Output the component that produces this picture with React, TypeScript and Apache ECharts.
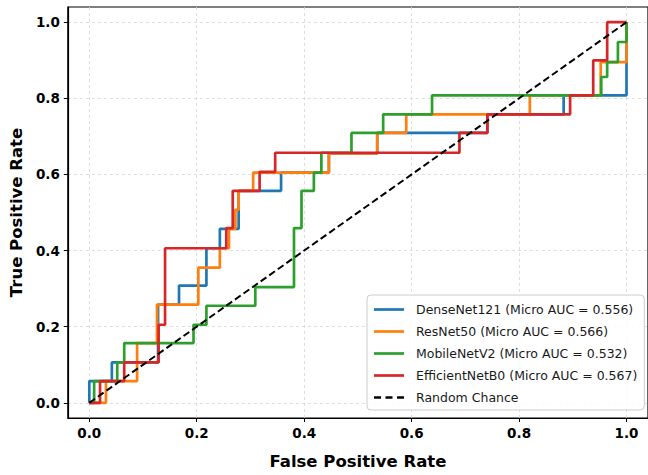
import React, { useEffect, useRef } from "react";
import * as echarts from "echarts";

const xTicks = [0, 0.2, 0.4, 0.6, 0.8, 1.0];
const yTicks = [0, 0.2, 0.4, 0.6, 0.8, 1.0];

const seriesNames = [
  "DenseNet121 (Micro AUC = 0.556)",
  "ResNet50 (Micro AUC = 0.566)",
  "MobileNetV2 (Micro AUC = 0.532)",
  "EfficientNetB0 (Micro AUC = 0.567)",
];
const chanceName = "Random Chance";
const seriesColors = ["#1f77b4", "#ff7f0e", "#2ca02c", "#d62728"];

const denseFpr = [0, 0, 0.042, 0.042, 0.128, 0.128, 0.167, 0.167, 0.218, 0.218, 0.243, 0.243, 0.278, 0.278, 0.357, 0.357, 0.446, 0.446, 0.536, 0.536, 0.741, 0.741, 0.883, 0.883, 1.0, 1.0];
const denseTpr = [0, 0.057, 0.057, 0.106, 0.106, 0.258, 0.258, 0.308, 0.308, 0.406, 0.406, 0.457, 0.457, 0.557, 0.557, 0.605, 0.605, 0.655, 0.655, 0.709, 0.709, 0.758, 0.758, 0.808, 0.808, 1.0];

const resFpr = [0, 0.031, 0.031, 0.089, 0.089, 0.126, 0.126, 0.203, 0.203, 0.243, 0.243, 0.26, 0.26, 0.272, 0.272, 0.278, 0.278, 0.305, 0.305, 0.446, 0.446, 0.536, 0.536, 0.59, 0.59, 0.82, 0.82, 0.952, 0.952, 1.0, 1.0];
const resTpr = [0, 0, 0.057, 0.057, 0.157, 0.157, 0.258, 0.258, 0.355, 0.355, 0.406, 0.406, 0.457, 0.457, 0.507, 0.507, 0.557, 0.557, 0.605, 0.605, 0.655, 0.655, 0.709, 0.709, 0.758, 0.758, 0.808, 0.808, 0.895, 0.895, 1.0];

const mobileFpr = [0, 0.009, 0.009, 0.052, 0.052, 0.065, 0.065, 0.194, 0.194, 0.218, 0.218, 0.309, 0.309, 0.381, 0.381, 0.395, 0.395, 0.418, 0.418, 0.432, 0.432, 0.488, 0.488, 0.547, 0.547, 0.638, 0.638, 0.953, 0.953, 0.964, 0.964, 0.984, 0.984, 1.0, 1.0];
const mobileTpr = [0, 0, 0.057, 0.057, 0.106, 0.106, 0.157, 0.157, 0.205, 0.205, 0.255, 0.255, 0.304, 0.304, 0.459, 0.459, 0.557, 0.557, 0.605, 0.605, 0.657, 0.657, 0.709, 0.709, 0.758, 0.758, 0.808, 0.808, 0.856, 0.856, 0.895, 0.895, 0.948, 0.948, 1.0];

const effFpr = [0, 0.02, 0.02, 0.065, 0.065, 0.129, 0.129, 0.141, 0.141, 0.255, 0.255, 0.267, 0.267, 0.317, 0.317, 0.346, 0.346, 0.689, 0.689, 0.741, 0.741, 0.895, 0.895, 0.938, 0.938, 0.964, 0.964, 1.0];
const effTpr = [0, 0, 0.057, 0.057, 0.106, 0.106, 0.205, 0.205, 0.406, 0.406, 0.459, 0.459, 0.557, 0.557, 0.607, 0.607, 0.657, 0.657, 0.709, 0.709, 0.758, 0.758, 0.808, 0.808, 0.9, 0.9, 1.0, 1.0];

const chanceFpr = [0, 1];
const chanceTpr = [0, 1];

const FONT = "DejaVu Sans";
const SOLID_ICON = "path://M0,0H30V2.7H0Z";
const DASH_ICON = "path://M0,0H7V2.3H0Z M11.5,0H18.5V2.3H11.5Z M23,0H30V2.3H23Z";

function pairs(xs: number[], ys: number[]) {
  return xs.map((x, i) => [x, ys[i]]);
}

export default function App() {
  const ref = useRef<HTMLDivElement>(null);
  useEffect(() => {
    document.body.style.margin = "0";
    const chart = echarts.init(ref.current!, null, { renderer: "svg" });
    const curves = [
      pairs(denseFpr, denseTpr),
      pairs(resFpr, resTpr),
      pairs(mobileFpr, mobileTpr),
      pairs(effFpr, effTpr),
    ];
    const option: any = {
      animation: false,
      backgroundColor: "#ffffff",
      textStyle: { fontFamily: FONT },
      grid: {
        left: 65,
        top: 7,
        width: 585.7,
        height: 411.5,
        show: true,
        borderColor: "#000000",
        borderWidth: 1.2,
        backgroundColor: "transparent",
      },
      xAxis: {
        type: "value",
        min: -0.04,
        max: 1.04,
        name: "False Positive Rate",
        nameLocation: "middle",
        nameGap: 35,
        nameTextStyle: { fontFamily: FONT, fontWeight: "bold", fontSize: 16.5, color: "#000" },
        axisLine: { show: true, onZero: false, lineStyle: { color: "#000", width: 1.2 } },
        axisTick: { show: true, customValues: xTicks, length: 4, lineStyle: { color: "#000", width: 1 } },
        axisLabel: {
          customValues: xTicks,
          formatter: (v: number) => v.toFixed(1),
          fontFamily: FONT,
          fontWeight: "bold",
          fontSize: 13.5,
          color: "#000",
          margin: 8,
        },
        splitLine: { show: false },
      },
      yAxis: {
        type: "value",
        min: -0.04,
        max: 1.04,
        name: "True Positive Rate",
        nameLocation: "middle",
        nameGap: 37,
        nameTextStyle: { fontFamily: FONT, fontWeight: "bold", fontSize: 16.5, color: "#000" },
        axisLine: { show: true, onZero: false, lineStyle: { color: "#000", width: 1.2 } },
        axisTick: { show: true, customValues: yTicks, length: 4, lineStyle: { color: "#000", width: 1 } },
        axisLabel: {
          customValues: yTicks,
          formatter: (v: number) => v.toFixed(1),
          fontFamily: FONT,
          fontWeight: "bold",
          fontSize: 13.5,
          color: "#000",
          margin: 8,
        },
        splitLine: { show: false },
      },
      legend: {
        orient: "vertical",
        left: 367,
        top: 295,
        padding: [8, 7, 6, 7],
        itemWidth: 30,
        itemHeight: 14,
        itemGap: 9,
        backgroundColor: "rgba(255,255,255,0.85)",
        borderColor: "#cccccc",
        borderWidth: 1,
        borderRadius: 4,
        textStyle: { fontFamily: FONT, fontSize: 12.5, color: "#1a1a1a", padding: [0, 0, 0, 7] },
        data: [
          ...seriesNames.map((n) => ({ name: n, icon: SOLID_ICON })),
          { name: chanceName, icon: DASH_ICON },
        ],
      },
      series: [
        {
          name: "_grid",
          type: "line",
          data: [],
          silent: true,
          z: 0,
          markLine: {
            silent: true,
            z: 0,
            symbol: ["none", "none"],
            label: { show: false },
            lineStyle: { color: "#d4d4d4", type: [3, 3], width: 0.8 },
            data: [
              ...xTicks.map((v) => ({ xAxis: v })),
              ...yTicks.map((v) => ({ yAxis: v })),
            ],
          },
        },
        ...curves.map((d, i) => ({
          name: seriesNames[i],
          type: "line",
          data: d,
          symbol: "none",
          z: 2 + i,
          lineStyle: { color: seriesColors[i], width: 2.7 },
          itemStyle: { color: seriesColors[i] },
        })),
        {
          name: chanceName,
          type: "line",
          data: pairs(chanceFpr, chanceTpr),
          symbol: "none",
          z: 10,
          lineStyle: { color: "#000000", width: 2, type: [7, 3.5] },
          itemStyle: { color: "#000000" },
        },
      ],
    };
    chart.setOption(option);
    return () => chart.dispose();
  }, []);
  return <div ref={ref} style={{ width: 648, height: 475 }} />;
}
